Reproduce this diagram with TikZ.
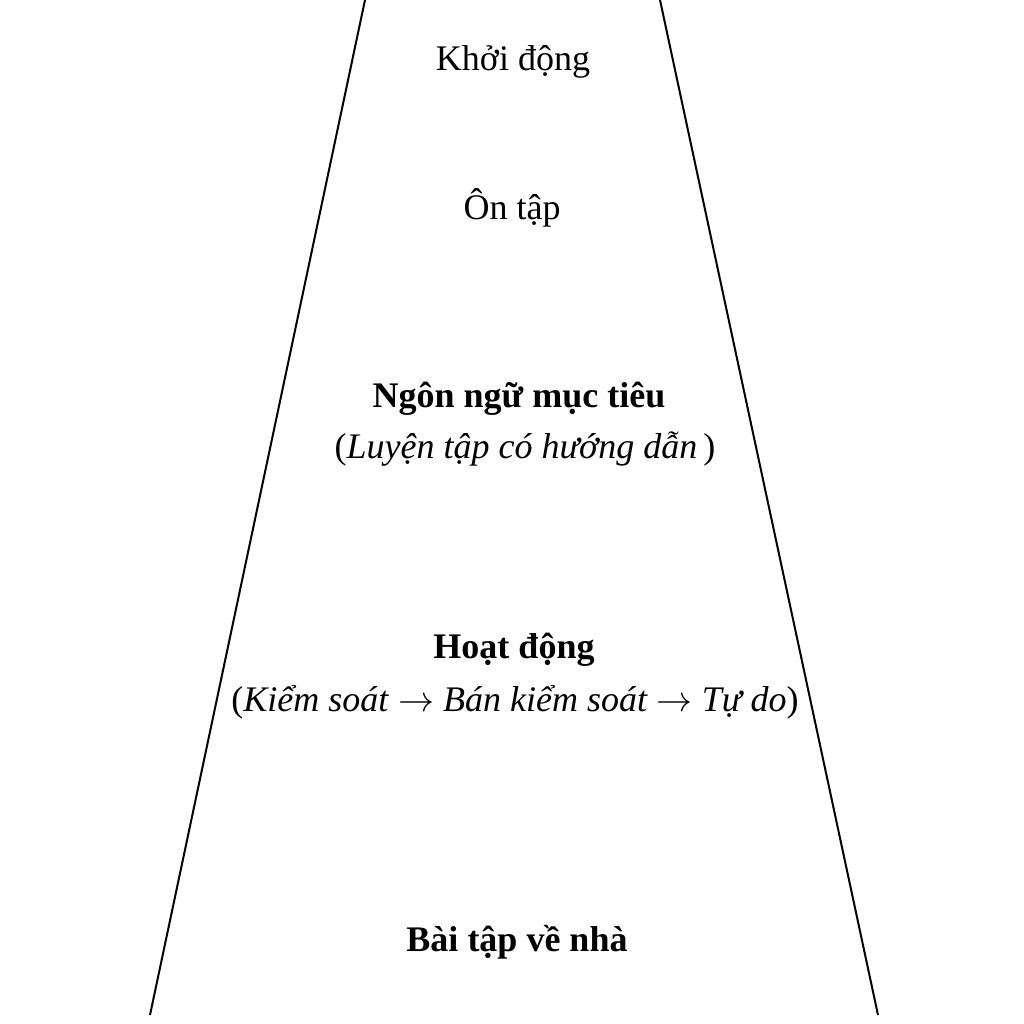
\documentclass[tikz,border=0pt]{standalone}
\usepackage{graphicx}
\usepackage{fontspec}
\setmainfont{Liberation Serif}
\newcommand{\myarrow}{\resizebox{1em}{!}{$\rightarrow$}}
\begin{document}
\begin{tikzpicture}[x=1pt,y=-1pt,
  lbl/.style={font=\fontsize{36}{42}\selectfont, inner sep=0pt, anchor=center},
  edge/.style={line width=2pt, black}]
\useasboundingbox (0,0) rectangle (1024,1024);
\coordinate (lt) at (365,0);
\coordinate (lb) at (150,1015);
\coordinate (rt) at (660,0);
\coordinate (rb) at (878,1015);
\draw[edge] (lt) -- (lb);
\draw[edge] (rt) -- (rb);
\node[lbl] (k) at (513,62) {Khởi động};
\node[lbl] (o) at (512,208) {Ôn tập};
\node[lbl] (n1) at (519,399) {\bfseries Ngôn ngữ mục tiêu};
\node[lbl] (n2) at (525,449) {(\textit{Luyện tập có hướng dẫn}\,)};
\node[lbl] (h1) at (514,650) {\bfseries Hoạt động};
\node[lbl] (h2) at (515,702) {(\textit{Kiểm soát} \myarrow{} \textit{Bán kiểm soát} \myarrow{} \textit{Tự do})};
\node[lbl] (b) at (517,942) {\bfseries Bài tập về nhà};
\end{tikzpicture}
\end{document}
